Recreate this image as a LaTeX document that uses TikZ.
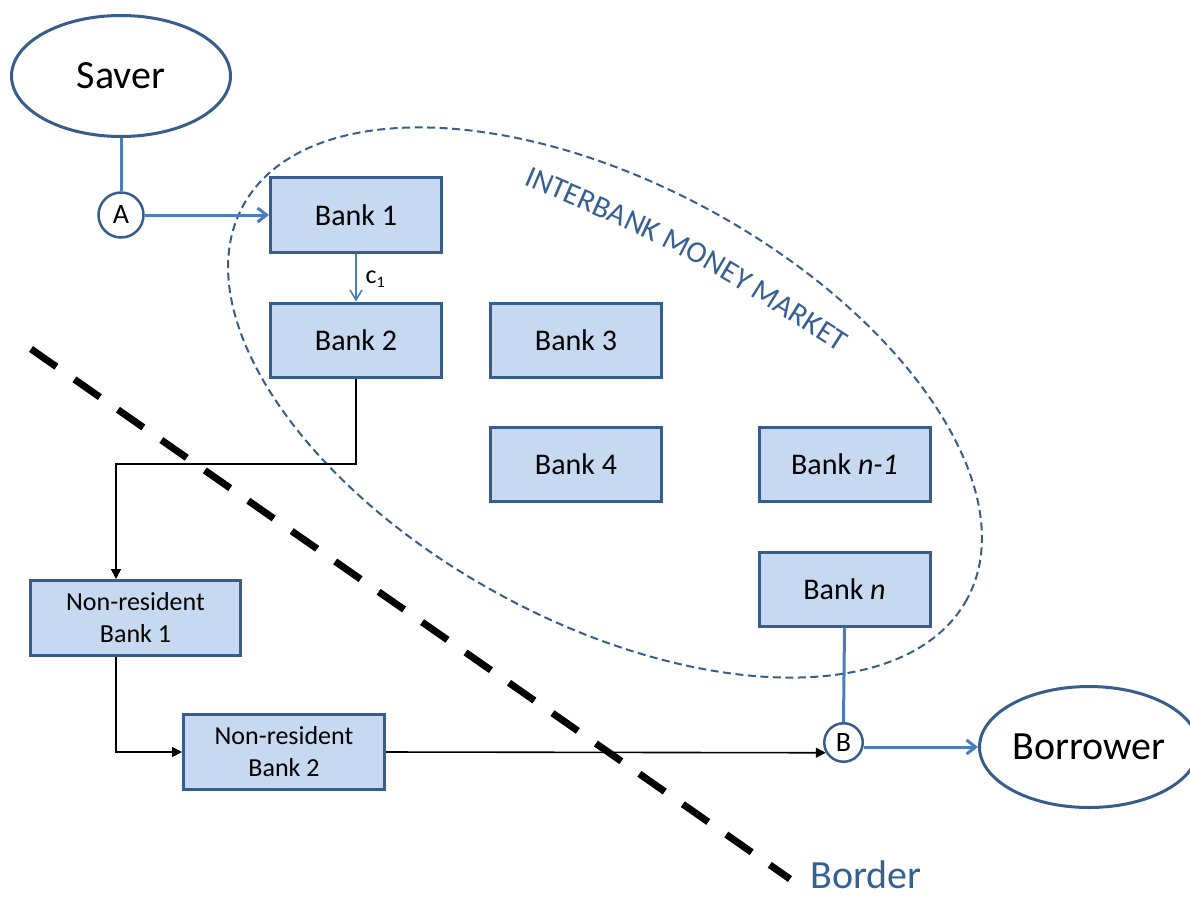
\documentclass[tikz,border=0pt]{standalone}
\usepackage{fontspec}
\setmainfont{Carlito}
\usetikzlibrary{arrows.meta,decorations.text,shapes.geometric}
\definecolor{boxfill}{HTML}{C6D9F1}
\definecolor{boxline}{HTML}{385D8A}
\definecolor{arrowblue}{HTML}{4A7EBB}
\definecolor{textblue}{HTML}{376092}
\begin{document}
\begin{tikzpicture}[x=1pt,y=-1pt,
  bankbox/.style={draw=boxline, fill=boxfill, line width=3pt, minimum width=171pt, minimum height=74pt, inner sep=0pt, font=\fontsize{30}{36}\selectfont, align=center},
  nrbox/.style={draw=boxline, fill=boxfill, line width=3pt, inner sep=0pt, font=\fontsize{26}{32}\selectfont, align=center, minimum height=75pt},
  actor/.style={draw=boxline, line width=3pt, ellipse, minimum width=219pt, minimum height=121pt, inner sep=0pt, font=\fontsize{40}{48}\selectfont},
  hub/.style={draw=boxline, line width=2.5pt, circle, inner sep=0pt, font=\fontsize{28}{28}\selectfont},
  bluelink/.style={draw=arrowblue, line width=3pt},
  bluearrow/.style={draw=arrowblue, line width=3pt, -{Straight Barb[length=9pt,width=14pt]}},
  thinblue/.style={draw=arrowblue, line width=1.6pt, -{Straight Barb[length=10pt,width=12pt]}},
  blackarrow/.style={draw=black, line width=1.6pt, -{Triangle[length=10pt,width=10pt]}},
  borderline/.style={draw=black, line width=7pt, dash pattern=on 31pt off 22pt},
  marketline/.style={draw=boxline, line width=2pt, dash pattern=on 8pt off 4.5pt}
]
\useasboundingbox (0,0) rectangle (1190,897);

% interbank market boundary
\draw[marketline, rotate around={-28.5:(605,402.5)}] (605,402.5) ellipse [x radius=412, y radius=219];
\path[decorate, decoration={text along path, text align=left,
   text={|\color{textblue}\fontsize{30.5}{30.5}\selectfont|INTERBANK MONEY MARKET}}]
   (523,184) .. controls (686,254) .. (842,354);

% actors
\node[actor] (saver) at (121,76) {Saver};
\node[actor] (borrower) at (1089,747) {Borrower};
\node[hub, minimum size=45pt] (A) at (121,215) {A};
\node[hub, minimum size=38.5pt] (B) at (843.5,742.5) {B};

% banks
\node[bankbox, minimum height=75pt] (bank1) at (356,215) {Bank 1};
\node[bankbox] (bank2) at (356,340) {Bank 2};
\node[bankbox] (bank3) at (576,340) {Bank 3};
\node[bankbox] (bank4) at (576,464) {Bank 4};
\node[bankbox] (bankm) at (844.5,464.5) {Bank \textit{n-1}};
\node[bankbox] (bankn) at (844.5,589) {Bank \textit{n}};
\node[nrbox, minimum width=210pt] (nrb1) at (135.5,618) {Non-resident\\Bank 1};
\node[nrbox, minimum width=201pt] (nrb2) at (284,752) {Non-resident\\Bank 2};

% blue connectors
\draw[bluelink] (saver.south) -- (A.north);
\draw[bluearrow] (A.east) -- (bank1.west);
\draw[thinblue] (bank1.south) -- (bank2.north);
\node[anchor=base west, font=\fontsize{26}{26}\selectfont] (c1) at (362,283) {c\raisebox{-4pt}{\fontsize{16}{16}\selectfont 1}};
\draw[bluelink] (bankn.south) -- (B.north);
\draw[bluearrow] (B.east |- borrower.west) -- (borrower.west);

% black connectors
\coordinate (k1) at (116,464);
\draw[blackarrow] (bank2.south) |- (k1) -- (k1 |- nrb1.north);
\draw[blackarrow] (k1 |- nrb1.south) |- (nrb2.west);
\draw[blackarrow] (nrb2.east) -- (B.210);

% border
\coordinate (bs) at (31,349);
\coordinate (be) at (790,879);
\draw[borderline] (bs) -- (be);
\node[anchor=base, text=textblue, font=\fontsize{40}{48}\selectfont] (border) at (866,888) {Border};
\end{tikzpicture}
\end{document}
